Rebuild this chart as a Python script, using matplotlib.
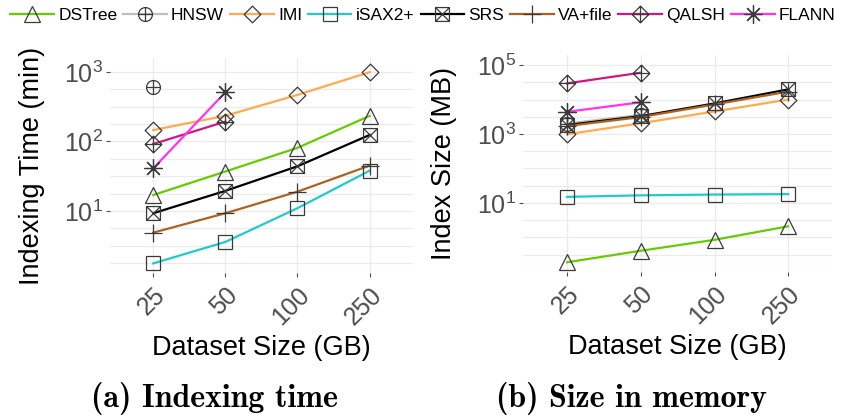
import numpy as np
import matplotlib
matplotlib.use("Agg")
import matplotlib.pyplot as plt
from matplotlib.path import Path
from matplotlib.lines import Line2D
from matplotlib.ticker import FixedLocator, FuncFormatter, NullFormatter

plt.rcParams["font.family"] = ["Liberation Sans", "DejaVu Sans"]

sizes = ["25", "50", "100", "250"]
methods = ["DSTree", "HNSW", "IMI", "iSAX2+", "SRS", "VA+file", "QALSH", "FLANN"]
nan = np.nan

# indexing time (min)
time_dstree = [17, 37, 81, 233]
time_hnsw = [615, nan, nan, nan]
time_imi = [146, 234, 467, 990]
time_isax = [1.77, 3.6, 11, 38]
time_srs = [9.3, 19.5, 44, 124]
time_vafile = [4.9, 9.3, 19, 45]
time_qalsh = [92, 193, nan, nan]
time_flann = [41, 510, nan, nan]

# index size (MB)
size_dstree = [0.19, 0.41, 0.85, 2.1]
size_hnsw = [2000, 3600, nan, nan]
size_imi = [980, 2050, 4500, 10000]
size_isax = [15, 16.6, 17.5, 18]
size_srs = [1820, 3300, 7700, 19700]
size_vafile = [1700, 3100, 7200, 17000]
size_qalsh = [29400, 60000, nan, nan]
size_flann = [4400, 8300, nan, nan]

time_data = [time_dstree, time_hnsw, time_imi, time_isax, time_srs,
             time_vafile, time_qalsh, time_flann]
size_data = [size_dstree, size_hnsw, size_imi, size_isax, size_srs,
             size_vafile, size_qalsh, size_flann]

colors = ["#66CC00", "#BEBEBE", "#FFAA4C", "#1FCBCB", "#000000",
          "#B0621C", "#CC1A80", "#FF33F0"]

M, L = Path.MOVETO, Path.LINETO
plus = Path([(-1, 0), (1, 0), (0, -1), (0, 1)], [M, L, M, L])
xcross = Path([(-1, -1), (1, 1), (-1, 1), (1, -1)], [M, L, M, L])
square = Path([(-1, -1), (1, -1), (1, 1), (-1, 1), (-1, -1)],
              [M, L, L, L, Path.CLOSEPOLY])
diamond = Path([(0, -1), (1, 0), (0, 1), (-1, 0), (0, -1)],
               [M, L, L, L, Path.CLOSEPOLY])
circle_plus = Path.make_compound_path(Path.unit_circle(), plus)
square_x = Path.make_compound_path(square, xcross)
diamond_plus = Path.make_compound_path(diamond, plus)

markers = ["^", circle_plus, diamond, "s", square_x, "+", diamond_plus, (8, 2, 0)]
msizes = [11, 10, 12, 10, 10, 13, 12, 13]
mec = "#3a3a3a"

fig = plt.figure(figsize=(8.46, 4.17), dpi=100)
ax1 = fig.add_axes([0.130, 0.345, 0.358, 0.516])
ax2 = fig.add_axes([0.618, 0.348, 0.366, 0.520])

x = np.arange(len(sizes))


def draw(ax, data, ylim, majors, minors, ylabel):
    # lines first, then all points on top (ggplot layer order)
    for vals, c in zip(data, colors):
        ax.plot(x, vals, color=c, lw=1.6, zorder=2)
    for vals, m, ms in zip(data, markers, msizes):
        ax.plot(x, vals, ls="none", marker=m, ms=ms, mfc="none", mec=mec,
                mew=0.9, zorder=3)
    ax.set_yscale("log")
    ax.set_ylim(*ylim)
    ax.set_xlim(-0.6, 3.6)
    ax.set_xticks(x)
    ax.set_xticklabels(sizes, rotation=45, ha="right", va="top",
                       rotation_mode="anchor", fontsize=18, color="#4D4D4D")
    ax.yaxis.set_major_locator(FixedLocator(majors))
    ax.yaxis.set_minor_locator(FixedLocator(minors))
    ax.yaxis.set_major_formatter(
        FuncFormatter(lambda v, p: r"$\mathregular{10^{%d}}$" % round(np.log10(v))))
    ax.yaxis.set_minor_formatter(NullFormatter())
    ax.tick_params(axis="y", which="major", labelsize=18, labelcolor="#4D4D4D",
                   length=3, width=0.8, color="#4D4D4D", pad=2)
    ax.tick_params(axis="y", which="minor", length=0)
    ax.tick_params(axis="x", length=3, width=0.8, color="#4D4D4D", pad=4)
    ax.grid(True, which="both", axis="y", color="#EBEBEB", lw=0.9)
    ax.grid(True, which="major", axis="x", color="#EBEBEB", lw=0.9)
    ax.set_axisbelow(True)
    for s in ax.spines.values():
        s.set_visible(False)
    ax.set_xlabel("Dataset Size (GB)", fontsize=19.5, labelpad=4)
    ax.set_ylabel(ylabel, fontsize=19.5, labelpad=14)


draw(ax1, time_data, (10 ** 0.108, 10 ** 3.2), [1e1, 1e2, 1e3],
     10 ** np.arange(0.25, 3.01, 0.25), "Indexing Time (min)")
draw(ax2, size_data, (10 ** -1, 10 ** 5.29), [1e1, 1e3, 1e5],
     10 ** np.arange(-1, 5.01, 0.5), "Index Size (MB)")

handles = [Line2D([], [], color=c, lw=1.6, marker=m, ms=ms, mfc="none",
                  mec=mec, mew=0.9)
           for c, m, ms in zip(colors, markers, msizes)]
fig.legend(handles, methods, loc="center", bbox_to_anchor=(0.5, 0.962),
           ncol=8, frameon=False, fontsize=12.5, handlelength=2.5,
           handletextpad=0.25, columnspacing=0.35, borderaxespad=0)

fig.text(0.254, 0.045, "(a) Indexing time", family="cmb10", fontsize=23,
         ha="center", va="center")
fig.text(0.747, 0.045, "(b) Size in memory", family="cmb10", fontsize=23,
         ha="center", va="center")

fig.savefig("out.png", dpi=100)
